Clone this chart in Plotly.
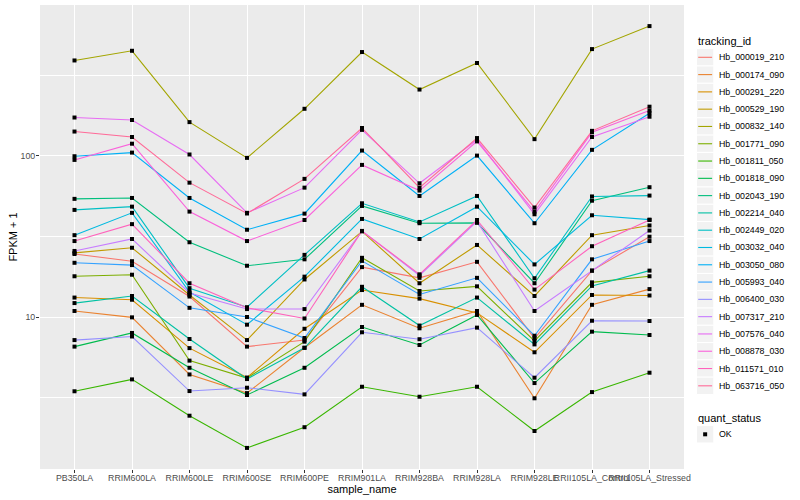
import math
import plotly.graph_objects as go

# ---------------- data (FPKM + 1) ----------------
samples = ["PB350LA", "RRIM600LA", "RRIM600LE", "RRIM600SE", "RRIM600PE",
           "RRIM901LA", "RRIM928BA", "RRIM928LA", "RRIM928LE",
           "RRII105LA_Control", "RRII105LA_Stressed"]

tracking_ids = ["Hb_000019_210", "Hb_000174_090", "Hb_000291_220", "Hb_000529_190",
                "Hb_000832_140", "Hb_001771_090", "Hb_001811_050", "Hb_001818_090",
                "Hb_002043_190", "Hb_002214_040", "Hb_002449_020", "Hb_003032_040",
                "Hb_003050_080", "Hb_005993_040", "Hb_006400_030", "Hb_007317_210",
                "Hb_007576_040", "Hb_008878_030", "Hb_011571_010", "Hb_063716_050"]

hb_000019_210 = [24.6, 22.2, 13.4, 6.55, 7.19, 20.4, 17.5, 22.0, 7.38, 19.4, 31.5]
hb_000174_090 = [10.9, 9.95, 4.40, 3.37, 6.44, 11.9, 8.51, 10.9, 3.13, 11.9, 14.9]
hb_000291_220 = [13.2, 12.8, 6.41, 4.21, 8.45, 14.7, 13.0, 10.6, 6.04, 13.7, 13.6]
hb_000529_190 = [25.0, 26.9, 13.7, 7.19, 17.1, 34.0, 16.2, 28.0, 13.5, 32.2, 37.0]
hb_000832_140 = [391, 449, 162, 97.2, 196, 441, 258, 377, 127, 460, 639]
hb_001771_090 = [17.9, 18.3, 5.36, 4.18, 7.03, 23.3, 14.5, 15.5, 7.10, 16.4, 17.9]
hb_001811_050 = [3.46, 4.10, 2.44, 1.54, 2.07, 3.69, 3.20, 3.69, 1.96, 3.42, 4.51]
hb_001818_090 = [6.55, 7.96, 4.84, 3.28, 4.84, 8.67, 6.70, 10.3, 3.89, 8.11, 7.73]
hb_002043_190 = [54.1, 54.8, 29.1, 20.8, 22.8, 48.9, 38.2, 38.4, 16.2, 52.7, 63.9]
hb_002214_040 = [12.2, 13.5, 7.30, 4.12, 6.44, 15.4, 8.85, 13.2, 6.76, 15.6, 19.4]
hb_002449_020 = [46.2, 48.4, 15.1, 11.5, 24.3, 50.8, 38.9, 56.4, 17.4, 56.0, 56.7]
hb_003032_040 = [32.2, 44.3, 14.3, 8.96, 17.8, 40.6, 30.5, 48.4, 21.2, 42.8, 40.2]
hb_003050_080 = [99.5, 104.8, 54.8, 34.8, 43.8, 107.9, 56.4, 100.4, 38.2, 109, 184]
hb_005993_040 = [21.7, 21.0, 11.4, 10.0, 7.41, 22.3, 13.8, 17.5, 7.65, 22.8, 29.6]
hb_006400_030 = [7.19, 7.57, 3.47, 3.64, 3.31, 8.04, 7.28, 8.59, 4.20, 9.48, 9.44]
hb_007317_210 = [25.7, 30.5, 14.1, 11.2, 11.2, 34.2, 18.1, 39.2, 10.9, 19.4, 34.4]
hb_007576_040 = [173, 167, 102, 44.3, 63.5, 145, 67.6, 126, 43.4, 131, 175]
hb_008878_030 = [94.4, 119, 45.1, 29.6, 40.0, 87.9, 60.9, 123, 45.1, 140, 191]
hb_011571_010 = [29.6, 37.7, 16.2, 11.4, 9.79, 34.2, 18.4, 40.0, 14.8, 27.5, 40.0]
hb_063716_050 = [141.6, 131, 68.2, 43.9, 72, 149, 63.5, 129, 47.8, 143, 202]

series = [hb_000019_210, hb_000174_090, hb_000291_220, hb_000529_190, hb_000832_140,
          hb_001771_090, hb_001811_050, hb_001818_090, hb_002043_190, hb_002214_040,
          hb_002449_020, hb_003032_040, hb_003050_080, hb_005993_040, hb_006400_030,
          hb_007317_210, hb_007576_040, hb_008878_030, hb_011571_010, hb_063716_050]

quant_status = ["OK"]


# ---------------- ggplot2 hue palette ----------------
def hcl_hex(h, c=100.0, l=65.0):
    hr = math.radians(h)
    u, v = c * math.cos(hr), c * math.sin(hr)
    Xn, Yn, Zn = 95.047, 100.0, 108.883
    den = Xn + 15 * Yn + 3 * Zn
    un, vn = 4 * Xn / den, 9 * Yn / den
    Y = Yn * ((l + 16) / 116) ** 3 if l > 8 else Yn * l / 903.3
    up = u / (13 * l) + un
    vp = v / (13 * l) + vn
    X = Y * 9 * up / (4 * vp)
    Z = Y * (12 - 3 * up - 20 * vp) / (4 * vp)
    X, Y, Z = X / 100, Y / 100, Z / 100
    r = 3.2404542 * X - 1.5371385 * Y - 0.4985314 * Z
    g = -0.9692660 * X + 1.8760108 * Y + 0.0415560 * Z
    b = 0.0556434 * X - 0.2040259 * Y + 1.0572252 * Z

    def gam(t):
        t = 12.92 * t if t <= 0.0031308 else 1.055 * t ** (1 / 2.4) - 0.055
        return max(0, min(255, round(t * 255)))
    return "#%02X%02X%02X" % (gam(r), gam(g), gam(b))


n = len(tracking_ids)
colors = [hcl_hex(15 + 360 / n * i) for i in range(n)]

fig = go.Figure()
for name, vals, col in zip(tracking_ids, series, colors):
    fig.add_trace(go.Scatter(x=samples, y=vals, mode="lines", name=name,
                             line=dict(color=col, width=1.1), showlegend=False,
                             hoverinfo="x+y+name"))

all_x = [s for vals in series for s in samples]
all_y = [v for vals in series for v in vals]
fig.add_trace(go.Scatter(x=all_x, y=all_y, mode="markers", name=quant_status[0],
                         marker=dict(color="black", size=4, symbol="square"),
                         showlegend=False))

# y range: ggplot style 5% expansion in log space
lo = math.log10(min(all_y))
hi = math.log10(max(all_y))
pad = (hi - lo) * 0.05
yrange = [lo - pad, hi + pad]

# ---------------- layout ----------------
L, R, T, B = 40, 116, 5, 31
W, H = 800, 500
pw, ph = W - L - R, H - T - B


def px(xp):
    return (xp - L) / pw


def py(yp):
    return (H - B - yp) / ph


font_family = "Liberation Sans, Arial, sans-serif"

fig.update_layout(
    width=W, height=H,
    margin=dict(l=L, r=R, t=T, b=B, pad=0),
    paper_bgcolor="white", plot_bgcolor="#EBEBEB",
    font=dict(family=font_family, size=9, color="#4D4D4D"),
    showlegend=False,
)

fig.update_xaxes(
    type="category", range=[-0.6, len(samples) - 0.4],
    showgrid=True, gridcolor="white", gridwidth=1.1, zeroline=False,
    showline=False, ticks="outside", ticklen=3, tickwidth=1, tickcolor="#333333",
    tickangle=0, ticklabelstandoff=-3,
    tickfont=dict(size=8.8, color="#4D4D4D", family=font_family),
    title=dict(text="sample_name", font=dict(size=11, color="black", family=font_family),
               standoff=0),
    automargin=False,
)

fig.update_yaxes(
    type="log", range=yrange,
    tickmode="array", tickvals=[10, 100], ticktext=["10", "100"],
    showgrid=True, gridcolor="white", gridwidth=1.1, zeroline=False,
    showline=False, ticks="outside", ticklen=3, tickwidth=1, tickcolor="#333333",
    ticklabelstandoff=-1,
    tickfont=dict(size=8.8, color="#4D4D4D", family=font_family),
    minor=dict(tickvals=[10 ** 0.5, 10 ** 1.5, 10 ** 2.5], showgrid=True,
               gridcolor="white", gridwidth=0.55, ticks=""),
    title=dict(text="FPKM + 1", font=dict(size=11, color="black", family=font_family),
               standoff=0),
    automargin=False,
)

# ---------------- manual ggplot-style legend ----------------
shapes = []
annotations = []
key_x0, key_x1 = 696.5, 713.8
text_x = 716.5
row_h = 17.29
first_y = 57.3

annotations.append(dict(x=px(695.5), y=py(40.7), xref="paper", yref="paper",
                        text="tracking_id", showarrow=False, xanchor="left",
                        yanchor="middle", font=dict(size=11, color="black",
                                                    family=font_family)))
for i, (name, col) in enumerate(zip(tracking_ids, colors)):
    yc = first_y + i * row_h
    shapes.append(dict(type="rect", xref="paper", yref="paper",
                       x0=px(key_x0), x1=px(key_x1),
                       y0=py(yc - row_h / 2), y1=py(yc + row_h / 2),
                       fillcolor="#F2F2F2", line=dict(color="white", width=1)))
    shapes.append(dict(type="line", xref="paper", yref="paper",
                       x0=px(key_x0 + 1.7), x1=px(key_x1 - 1.7), y0=py(yc), y1=py(yc),
                       line=dict(color=col, width=1.1)))
    annotations.append(dict(x=px(text_x), y=py(yc), xref="paper", yref="paper",
                            text=name, showarrow=False, xanchor="left",
                            yanchor="middle", font=dict(size=8.8, color="black",
                                                        family=font_family)))

q_title_y = 417.5
q_y = 434.3
annotations.append(dict(x=px(695.5), y=py(q_title_y), xref="paper", yref="paper",
                        text="quant_status", showarrow=False, xanchor="left",
                        yanchor="middle", font=dict(size=11, color="black",
                                                    family=font_family)))
shapes.append(dict(type="rect", xref="paper", yref="paper",
                   x0=px(key_x0), x1=px(key_x1),
                   y0=py(q_y - row_h / 2), y1=py(q_y + row_h / 2),
                   fillcolor="#F2F2F2", line=dict(color="white", width=1)))
kc = (key_x0 + key_x1) / 2
shapes.append(dict(type="rect", xref="paper", yref="paper",
                   x0=px(kc - 2), x1=px(kc + 2), y0=py(q_y - 2), y1=py(q_y + 2),
                   fillcolor="black", line=dict(width=0)))
annotations.append(dict(x=px(text_x), y=py(q_y), xref="paper", yref="paper",
                        text=quant_status[0], showarrow=False, xanchor="left",
                        yanchor="middle", font=dict(size=8.8, color="black",
                                                    family=font_family)))

fig.update_layout(shapes=shapes, annotations=annotations)

fig.write_html("out.html",
               config={"displayModeBar": False},
               post_script="document.body.style.margin='0px';"
                           "document.body.style.overflow='hidden';")
